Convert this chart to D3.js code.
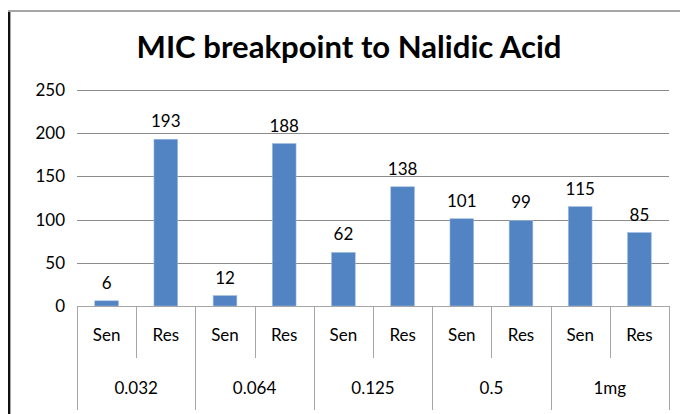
<!DOCTYPE html>
<html><head><meta charset="utf-8">
<script src="https://cdn.jsdelivr.net/npm/d3@7"></script>
<style>body{margin:0;background:#fff}svg{display:block}text{font-family:Lato,"Open Sans",sans-serif}</style>
</head><body>
<svg id="c" width="680" height="414"></svg>
<script>
const title = "MIC breakpoint to Nalidic Acid";
const groups = ["0.032","0.064","0.125","0.5","1mg"];
const subs = ["Sen","Res"];
const values = [6,193,12,188,62,138,101,99,115,85];
const yTicks = [0,50,100,150,200,250];

const svg = d3.select("#c");
const W=680,H=414;
const m = {left:77,right:669,top:90,bottom:306};
const cats = [];
groups.forEach((g,gi)=>subs.forEach((s,si)=>cats.push({g,s,key:g+"|"+s,v:values[gi*2+si]})));

const x = d3.scaleBand().domain(cats.map(d=>d.key)).range([m.left,m.right]).paddingInner(0.6).paddingOuter(0.3);
const slot = d3.scaleBand().domain(cats.map(d=>d.key)).range([m.left,m.right]);
const y = d3.scaleLinear().domain([0,250]).range([m.bottom,m.top]);
const fs = 17;

// frame
svg.append("line").attr("x1",9).attr("x2",9).attr("y1",10).attr("y2",H).attr("stroke","#111").attr("stroke-width",2);
svg.append("line").attr("x1",10.5).attr("x2",10.5).attr("y1",11).attr("y2",H).attr("stroke","#a6a6a6").attr("stroke-width",1);
svg.append("line").attr("x1",8).attr("x2",W).attr("y1",11).attr("y2",11).attr("stroke","#a6a6a6").attr("stroke-width",2);

// title
const t = svg.append("text").attr("x",349).attr("y",58).attr("text-anchor","middle")
  .attr("font-size",30).attr("font-weight","bold").attr("fill","#000").text(title);
t.attr("textLength",425).attr("lengthAdjust","spacingAndGlyphs");

// gridlines
svg.append("g").selectAll("line").data(yTicks.filter(d=>d>0)).join("line")
  .attr("x1",m.left).attr("x2",m.right).attr("y1",d=>Math.round(y(d))+0.5).attr("y2",d=>Math.round(y(d))+0.5)
  .attr("stroke","#8c8c8c").attr("stroke-width",1);

// y axis
const ya = svg.append("g").attr("transform",`translate(${m.left},0)`).call(d3.axisLeft(y).tickValues(yTicks).tickSize(0).tickPadding(12));
ya.select(".domain").remove();
ya.selectAll("text").attr("font-size",fs).attr("fill","#000").attr("font-family","Lato,sans-serif");

// bars
svg.append("g").selectAll("rect").data(cats).join("rect")
  .attr("x",d=>x(d.key)).attr("width",x.bandwidth())
  .attr("y",d=>y(d.v)).attr("height",d=>y(0)-y(d.v))
  .attr("fill","#5283C3").attr("stroke","#9dbbe0").attr("stroke-width",0.6);

// data labels
svg.append("g").selectAll("text").data(cats).join("text")
  .attr("x",d=>x(d.key)+x.bandwidth()/2).attr("y",d=>y(d.v)-12)
  .attr("text-anchor","middle").attr("font-size",fs).attr("fill","#000").text(d=>d.v);

// category axis
const axisColor="#a6a6a6";
svg.append("line").attr("x1",m.left).attr("x2",m.right).attr("y1",m.bottom+0.5).attr("y2",m.bottom+0.5).attr("stroke",axisColor);
const bounds = d3.range(cats.length+1);
svg.append("g").selectAll("line").data(bounds).join("line")
  .attr("x1",i=>Math.round(m.left+i*slot.step())+0.5).attr("x2",i=>Math.round(m.left+i*slot.step())+0.5)
  .attr("y1",m.bottom).attr("y2",i=>i%2===0?410:358)
  .attr("stroke",axisColor);
svg.append("g").selectAll("text").data(cats).join("text")
  .attr("x",d=>slot(d.key)+slot.bandwidth()/2).attr("y",341)
  .attr("text-anchor","middle").attr("font-size",fs).attr("fill","#000").text(d=>d.s);
svg.append("g").selectAll("text").data(groups).join("text")
  .attr("x",(g,i)=>m.left+(i*2+1)*slot.step()).attr("y",394)
  .attr("text-anchor","middle").attr("font-size",fs).attr("fill","#000").text(d=>d);
</script>
</body></html>
